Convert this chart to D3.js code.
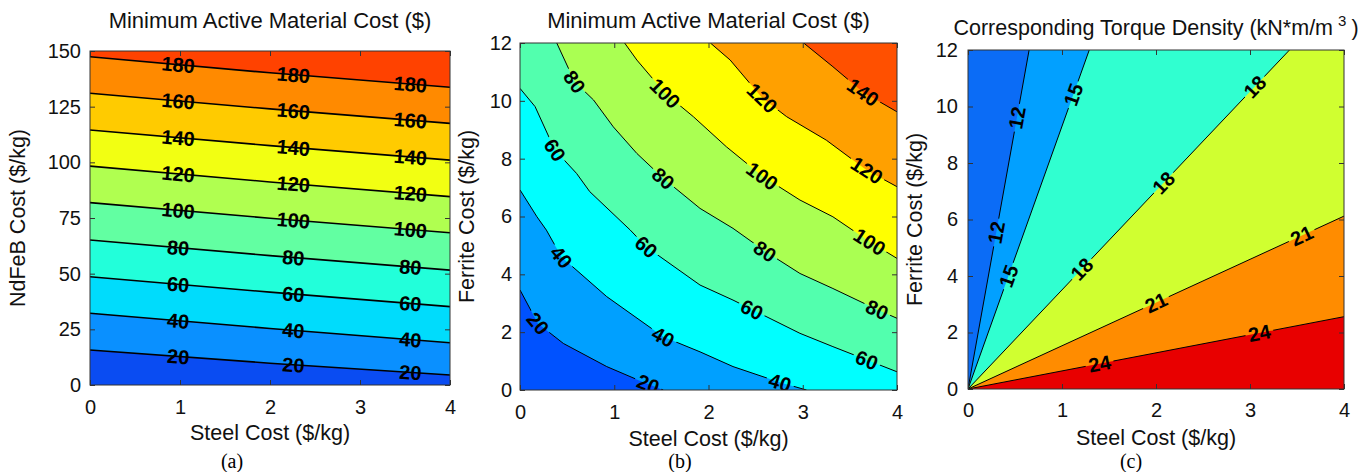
<!DOCTYPE html>
<html><head><meta charset="utf-8">
<script src="https://cdn.jsdelivr.net/npm/d3@7"></script>
<style>
body{margin:0;background:#fff;}
svg{display:block;font-family:"Liberation Sans",Arial,Helvetica,sans-serif;}
</style>
</head><body>
<svg id="chart" width="1372" height="472"></svg>
<script>
// ---------------- Panel (a): NdFeB cost vs steel cost ----------------
const aLevels = [20, 40, 60, 80, 100, 120, 140, 160, 180];
const aSteel = [0, 2, 4];
// NdFeB cost where each contour crosses steel = 0, 2, 4 $/kg
const aNdFeB = [
  [15.7, 9.8, 4.5],
  [32.2, 25.4, 19.0],
  [48.6, 41.7, 35.2],
  [65.1, 58.1, 51.6],
  [81.9, 74.9, 68.4],
  [98.3, 91.2, 84.6],
  [114.5, 107.5, 101.0],
  [131.0, 124.0, 117.5],
  [147.4, 140.2, 133.7]
];
const aColors = ["#0a4cf2", "#0a90ff", "#00dcfc", "#22ffda", "#62ffa2", "#b0ff50", "#f2ff12", "#ffcb00", "#ff8a00", "#ff4200"];
const aLabelSteel = [0.98, 2.26, 3.56];
const aXTicks = [0, 1, 2, 3, 4];
const aYTicks = [0, 25, 50, 75, 100, 125, 150];

// ---------------- Panel (b): ferrite cost vs steel cost ----------------
const bLevels = [20, 40, 60, 80, 100, 120, 140];
const bLines = [
  [[0,3.46],[0.19,2.3],[0.46,1.61],[0.92,0.81],[1.25,0.35],[1.52,0]],
  [[0,6.92],[0.18,5.99],[0.28,5.53],[0.44,4.6],[0.92,3.23],[1.52,1.84],[1.91,1.32],[2.26,0.81],[2.76,0.26],[3.04,0]],
  [[0,10.43],[0.16,9.8],[0.37,8.3],[0.6,7.49],[0.74,6.86],[1.17,5.53],[1.34,4.95],[1.91,3.63],[2.26,3.11],[2.97,1.96],[3.32,1.5],[4,0.63]],
  [[0.39,12],[0.58,10.66],[0.78,10.03],[0.99,9.1],[1.24,8.18],[1.52,7.32],[1.91,6.28],[2.26,5.59],[2.6,4.8],[2.97,4.03],[3.32,3.51],[3.79,2.78],[4,2.48]],
  [[1.11,12],[1.24,11.41],[1.54,10.26],[1.84,9.45],[2.19,8.41],[2.57,7.4],[2.97,6.57],[3.32,5.99],[3.7,5.15],[4,4.55]],
  [[2.02,12],[2.23,11.41],[2.57,10.1],[2.83,9.45],[3.25,8.64],[3.68,7.6],[4,7.03]],
  [[3.01,12],[3.32,11.18],[3.64,10.3],[4,9.62]]
];
const bColors = ["#0052ff", "#00a0ff", "#00ffff", "#52ffae", "#aaff52", "#ffff00", "#ffa000", "#ff5000"];
const bLabels = [
  [20,0.19],[20,1.36],
  [40,0.44],[40,1.52],[40,2.76],
  [60,0.37],[60,1.34],[60,2.46],[60,3.68],
  [80,0.58],[80,1.52],[80,2.6],[80,3.79],
  [100,1.54],[100,2.57],[100,3.71],
  [120,2.57],[120,3.68],
  [140,3.64]
];
const bXTicks = [0, 1, 2, 3, 4];
const bYTicks = [0, 2, 4, 6, 8, 10, 12];

// ---------------- Panel (c): torque density ----------------
const cLevels = [12, 15, 18, 21, 24];
const cLines = [
  [[0,0],[0.65,12]],
  [[0,0],[1.29,12]],
  [[0,0],[3.42,12]],
  [[0,0],[4,6.12]],
  [[0,0],[4,2.56]]
];
const cColors = ["#0b6cf6", "#02a0ff", "#30ffd0", "#d0ff30", "#ff8c00", "#e80000"];
const cLabels = [[12,0.52],[12,0.30],[15,1.12],[15,0.43],[18,3.05],[18,2.08],[18,1.21],[21,3.55],[21,2.0],[24,1.4],[24,3.1]];
const cXTicks = [0, 1, 2, 3, 4];
const cYTicks = [0, 2, 4, 6, 8, 10, 12];

// ---------------- drawing ----------------
const W = 1372, H = 472;
const svg = d3.select("#chart");
const defs = svg.append("defs");
const TXT = "#111";

function labelPose(pix, px) {
  const cum = [0];
  for (let i = 1; i < pix.length; i++) cum.push(cum[i-1] + Math.hypot(pix[i][0]-pix[i-1][0], pix[i][1]-pix[i-1][1]));
  let s0 = 0;
  for (let i = 0; i < pix.length - 1; i++) {
    const a = pix[i], b = pix[i+1];
    if ((px >= a[0] && px <= b[0]) || (px <= a[0] && px >= b[0])) {
      const t = b[0] === a[0] ? 0 : (px - a[0]) / (b[0] - a[0]);
      s0 = cum[i] + t * (cum[i+1] - cum[i]);
      break;
    }
  }
  const total = cum[cum.length-1];
  const at = s => {
    s = Math.max(0, Math.min(total, s));
    for (let i = 0; i < pix.length - 1; i++) {
      if (s <= cum[i+1] || i === pix.length - 2) {
        const seg = cum[i+1] - cum[i];
        const t = seg ? (s - cum[i]) / seg : 0;
        return [pix[i][0] + t*(pix[i+1][0]-pix[i][0]), pix[i][1] + t*(pix[i+1][1]-pix[i][1])];
      }
    }
    return pix[pix.length-1];
  };
  const c = at(s0), p1 = at(s0 - 14), p2 = at(s0 + 14);
  let ang = Math.atan2(p2[1]-p1[1], p2[0]-p1[0]) * 180 / Math.PI;
  if (ang > 90) ang -= 180;
  if (ang < -90) ang += 180;
  return {x: c[0], y: c[1], ang};
}

function panel(o) {
  const x = d3.scaleLinear().domain(o.xDomain).range([o.left, o.right]);
  const y = d3.scaleLinear().domain(o.yDomain).range([o.bottom, o.top]);
  const [xMin, xMax] = o.xDomain, [yMin, yMax] = o.yDomain;
  const g = svg.append("g");
  defs.append("clipPath").attr("id", o.id + "clip").append("rect")
    .attr("x", o.left).attr("y", o.top).attr("width", o.right - o.left).attr("height", o.bottom - o.top);
  const plot = g.append("g").attr("clip-path", `url(#${o.id}clip)`);
  plot.append("rect").attr("x", o.left).attr("y", o.top)
    .attr("width", o.right - o.left).attr("height", o.bottom - o.top).attr("fill", o.colors[0]);
  const line = d3.line().x(d => x(d[0])).y(d => y(d[1]));

  o.lines.forEach((pts, i) => {
    const poly = pts.slice();
    const first = pts[0], last = pts[pts.length-1];
    if (o.mode === "upper") {
      if (last[1] === yMin) poly.push([xMax, yMin]);
      poly.push([xMax, yMax]);
      if (first[0] === xMin) poly.push([xMin, yMax]);
    } else {
      if (last[1] === yMax) poly.push([xMax, yMax]);
      poly.push([xMax, yMin]);
    }
    plot.append("path").attr("d", line(poly) + "Z").attr("fill", o.colors[i+1]);
  });

  const mask = defs.append("mask").attr("id", o.id + "mask").attr("maskUnits", "userSpaceOnUse")
    .attr("x", 0).attr("y", 0).attr("width", W).attr("height", H);
  mask.append("rect").attr("x", 0).attr("y", 0).attr("width", W).attr("height", H).attr("fill", "white");
  const lineG = plot.append("g");
  if (o.gap) lineG.attr("mask", `url(#${o.id}mask)`);
  o.lines.forEach(pts => {
    lineG.append("path").attr("d", line(pts)).attr("fill", "none")
      .attr("stroke", "#000").attr("stroke-width", o.lw).attr("stroke-linejoin", "round");
  });

  const labG = plot.append("g");
  o.labels.forEach(([lev, s]) => {
    const idx = o.levels.indexOf(lev);
    const pix = o.lines[idx].map(p => [x(p[0]), y(p[1])]);
    const pose = labelPose(pix, x(s));
    const tr = `translate(${pose.x},${pose.y}) rotate(${pose.ang})`;
    const t = labG.append("text").attr("transform", tr).attr("text-anchor", "middle")
      .attr("dy", "0.36em").attr("font-size", 20).attr("font-weight", "bold").attr("fill", "#000")
      .text(lev);
    const w = t.node().getComputedTextLength() + 6;
    mask.append("rect").attr("transform", tr).attr("x", -w/2).attr("y", -8)
      .attr("width", w).attr("height", 16).attr("fill", "black");
  });

  // axes
  const styleAxis = sel => {
    sel.attr("font-size", 20).attr("font-family", "'Liberation Sans', Arial, sans-serif").attr("color", "#333");
    sel.select(".domain").remove();
    sel.selectAll("text").attr("fill", TXT);
  };
  g.append("g").attr("transform", `translate(0,${o.bottom})`)
    .call(d3.axisBottom(x).tickValues(o.xTicks).tickSize(-5).tickPadding(o.xPad).tickFormat(d3.format("d")))
    .call(styleAxis);
  g.append("g").attr("transform", `translate(0,${o.top})`)
    .call(d3.axisTop(x).tickValues(o.xTicks).tickSize(-5).tickFormat(() => ""))
    .call(styleAxis);
  g.append("g").attr("transform", `translate(${o.left},0)`)
    .call(d3.axisLeft(y).tickValues(o.yTicks).tickSize(-5).tickPadding(o.yPad).tickFormat(d3.format("d")))
    .call(styleAxis);
  g.append("g").attr("transform", `translate(${o.right},0)`)
    .call(d3.axisRight(y).tickValues(o.yTicks).tickSize(-5).tickFormat(() => ""))
    .call(styleAxis);
  g.append("rect").attr("x", o.left).attr("y", o.top).attr("width", o.right - o.left)
    .attr("height", o.bottom - o.top).attr("fill", "none").attr("stroke", "#333").attr("stroke-width", 1);

  // titles & labels
  const cx = (o.left + o.right) / 2, cy = (o.top + o.bottom) / 2;
  const title = g.append("text").attr("x", cx).attr("y", o.titleY).attr("text-anchor", "middle")
    .attr("font-size", o.titleSize).attr("fill", TXT);
  if (o.titleSup) {
    title.append("tspan").text(o.title);
    title.append("tspan").attr("dx", 5).attr("dy", -9).attr("font-size", 15).text(o.titleSup);
    title.append("tspan").attr("dx", 5).attr("dy", 9).text(")");
  } else {
    title.text(o.title);
  }
  g.append("text").attr("x", cx).attr("y", o.xLabelY).attr("text-anchor", "middle")
    .attr("font-size", 21.5).attr("fill", TXT).text("Steel Cost ($/kg)");
  g.append("text").attr("transform", `translate(${o.yLabelX},${cy}) rotate(-90)`).attr("text-anchor", "middle")
    .attr("font-size", 21.5).attr("fill", TXT).text(o.yLabel);
  g.append("text").attr("x", o.capX).attr("y", 468).attr("text-anchor", "middle")
    .attr("font-size", 20).attr("font-family", "'Liberation Serif', 'Times New Roman', serif")
    .attr("fill", "#000").text(o.caption);
}

panel({
  id: "pa", left: 90, right: 450, top: 51, bottom: 385,
  xDomain: [0, 4], yDomain: [0, 150], xTicks: aXTicks, yTicks: aYTicks,
  levels: aLevels,
  lines: aNdFeB.map(row => aSteel.map((s, j) => [s, row[j]])),
  colors: aColors, mode: "upper", lw: 1.6, gap: false,
  labels: aLevels.flatMap(l => aLabelSteel.map(s => [l, s])),
  title: "Minimum Active Material Cost ($)", titleY: 28, titleSize: 22,
  xLabelY: 440, yLabel: "NdFeB Cost ($/kg)", yLabelX: 25,
  xPad: 15, yPad: 9, caption: "(a)", capX: 232
});
panel({
  id: "pb", left: 520, right: 897, top: 43, bottom: 390,
  xDomain: [0, 4], yDomain: [0, 12], xTicks: bXTicks, yTicks: bYTicks,
  levels: bLevels, lines: bLines, colors: bColors, mode: "upper", lw: 1, gap: true,
  labels: bLabels,
  title: "Minimum Active Material Cost ($)", titleY: 28, titleSize: 22,
  xLabelY: 446, yLabel: "Ferrite Cost ($/kg)", yLabelX: 474,
  xPad: 15, yPad: 8, caption: "(b)", capX: 680
});
panel({
  id: "pc", left: 968, right: 1344, top: 50, bottom: 389,
  xDomain: [0, 4], yDomain: [0, 12], xTicks: cXTicks, yTicks: cYTicks,
  levels: cLevels, lines: cLines, colors: cColors, mode: "lower", lw: 1, gap: true,
  labels: cLabels,
  title: "Corresponding Torque Density (kN*m/m", titleSup: "3", titleY: 35, titleSize: 21.5,
  xLabelY: 445, yLabel: "Ferrite Cost ($/kg)", yLabelX: 922,
  xPad: 14, yPad: 10, caption: "(c)", capX: 1131
});
</script>
</body></html>
